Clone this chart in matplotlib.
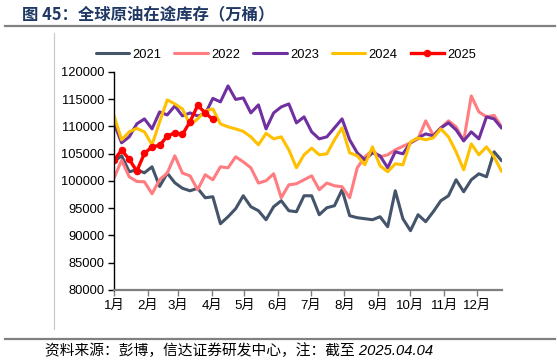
import numpy as np
import matplotlib
matplotlib.use("Agg")
import matplotlib.pyplot as plt
from matplotlib.lines import Line2D

plt.rcParams["font.family"] = ["Liberation Sans", "Noto Sans CJK SC", "DejaVu Sans"]

# weekly observations, day-of-year positions
DAYS = np.arange(52) * 7
MONTH_STARTS = [0, 31, 59, 90, 120, 151, 181, 212, 243, 273, 304, 334]
MONTH_LABELS = ["1月", "2月", "3月", "4月", "5月", "6月",
                "7月", "8月", "9月", "10月", "11月", "12月"]

y2021 = [103570, 104615, 101685, 102050, 101500, 102600, 98990, 101450, 99670, 98660,
         98200, 98660, 96920, 97110, 92160, 93440, 94910, 97290, 95280, 94540,
         92890, 95280, 96380, 94540, 94360, 97290, 97290, 93810, 95090, 95460,
         98390, 93630, 93260, 93080, 92890, 93440, 91610, 98200, 93080, 90880,
         93810, 92530, 94360, 96380, 97290, 100220, 98020, 100220, 101320, 100770,
         105350, 103700]
y2022 = [100530, 103790, 100770, 99910, 99850, 97660, 100220, 101450, 104620, 101450,
         100950, 98390, 101140, 100220, 102600, 102420, 104430, 103520, 102420, 99620,
         100040, 101320, 96920, 99300, 99490, 100220, 100950, 98390, 99620, 99120,
         98940, 96920, 102420, 104430, 105620, 104430, 104800, 105710, 106360, 107000,
         107730, 111030, 108370, 109740, 111030, 109930, 107360, 115600, 112670, 111760,
         112030, 109930]
y2023 = [110570, 107000, 108100, 110480, 111390, 109560, 112670, 112120, 113770, 111940,
         112490, 111940, 112310, 115150, 114510, 117440, 114960, 115240, 112490, 113960,
         109560, 112490, 113590, 114140, 110660, 111760, 109010, 107730, 108100, 109740,
         111390, 107550, 105160, 103880, 105160, 104620, 102420, 105350, 104980, 107000,
         107910, 108640, 108280, 109740, 110660, 109380, 107360, 109010, 107730, 111760,
         111390, 109690]
y2024 = [111940, 107550, 109010, 109650, 109010, 106630, 110840, 114870, 114140, 113220,
         110290, 111390, 112860, 113220, 110480, 109930, 109560, 109100, 108100, 106630,
         108740, 107730, 108100, 105710, 102420, 104800, 106030, 104800, 104980, 107550,
         109740, 105160, 104620, 102970, 106260, 102780, 101690, 103150, 102970, 107180,
         107910, 107550, 107910, 109560, 108100, 105350, 102050, 106810, 104800, 106260,
         104430, 101740]
y2025 = [103830, 105660, 103960, 101810, 105050, 106280, 106520, 108220, 108850, 108540,
         110860, 113850, 112510, 111280]

SERIES = [("2021", y2021, "#44546A"),
          ("2022", y2022, "#FF7C80"),
          ("2023", y2023, "#7030A0"),
          ("2024", y2024, "#FFC000")]

fig = plt.figure(figsize=(5.57, 3.64), dpi=100)
ax = fig.add_axes([0.2047, 0.2033, 0.696, 0.599])

handles = []
for name, vals, color in SERIES:
    h, = ax.plot(DAYS[:len(vals)], vals, color=color, linewidth=2.2,
                 solid_joinstyle="round", solid_capstyle="round", label=name)
    handles.append(h)
h25, = ax.plot(DAYS[:len(y2025)], y2025, color="#FF0000", linewidth=2.4,
               marker="o", markersize=4.4, solid_joinstyle="round", label="2025")
handles.append(h25)

ax.set_xlim(0, 357)
ax.set_ylim(80000, 120000)
ax.set_yticks(np.arange(80000, 120001, 5000))
ax.set_xticks(MONTH_STARTS)
ax.set_xticklabels(MONTH_LABELS)

for s in ["top", "right"]:
    ax.spines[s].set_visible(False)
ax.spines["left"].set_color("#000000")
ax.spines["left"].set_linewidth(1.0)
ax.spines["bottom"].set_color("#7F7F7F")
ax.spines["bottom"].set_linewidth(1.6)
ax.tick_params(axis="y", direction="out", length=4, width=1, color="#000000",
               labelsize=9.3, pad=3)
ax.tick_params(axis="x", direction="out", length=4, width=1, color="#7F7F7F",
               labelsize=9.5, pad=3)

fig.legend(handles=handles, loc="center", bbox_to_anchor=(286 / 557, 1 - 55 / 364),
           ncol=5, frameon=False, fontsize=9.3, handlelength=2.6,
           handletextpad=0.25, columnspacing=1.0)

# title and frame decoration
fig.text(22 / 557, 1 - 15 / 364, "图 45：全球原油在途库存（万桶）", fontsize=11.8,
         fontweight="bold", color="#1F3864", va="center", ha="left",
         family=["Noto Sans CJK SC", "DejaVu Sans"])
fig.add_artist(Line2D([5 / 557, 555 / 557], [1 - 26 / 364] * 2,
                      color="#808080", linewidth=1.6))
fig.add_artist(Line2D([5 / 557, 555 / 557], [1 - 339 / 364] * 2,
                      color="#808080", linewidth=1.6))
fig.add_artist(Line2D([54 / 557] * 2, [1 - 33 / 364, 1 - 329 / 364],
                      color="#C8C8C8", linewidth=0.8))
fig.text(45 / 557, 1 - 351 / 364, "资料来源：彭博，信达证券研发中心，注：截至 2025.04.04",
         fontsize=10.6, style="italic", color="#000000", va="center", ha="left")

fig.savefig("out.png", dpi=100)
